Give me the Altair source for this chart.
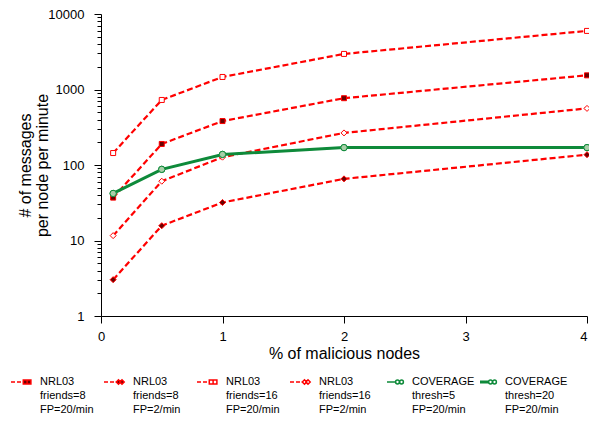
import altair as alt
import pandas as pd

# ---------------- data ----------------
x_pct = [0.1, 0.5, 1, 2, 4]
nrl_f8_fp20 = [37, 190, 382, 767, 1540]
nrl_f8_fp2 = [3.03, 15.7, 31.9, 65.5, 137]
nrl_f16_fp20 = [144, 727, 1466, 2960, 5970]
nrl_f16_fp2 = [11.6, 61, 127, 266, 562]
cov_t5 = [42, 87.6, 138, 170, 170]
cov_t20 = [42, 87.6, 138, 170, 170]

series_names = [
    "NRL03\nfriends=8\nFP=20/min",
    "NRL03\nfriends=8\nFP=2/min",
    "NRL03\nfriends=16\nFP=20/min",
    "NRL03\nfriends=16\nFP=2/min",
    "COVERAGE\nthresh=5\nFP=20/min",
    "COVERAGE\nthresh=20\nFP=20/min",
]
series_values = [nrl_f8_fp20, nrl_f8_fp2, nrl_f16_fp20, nrl_f16_fp2, cov_t5, cov_t20]

x_ticks = [0, 1, 2, 3, 4]
y_major = [1, 10, 100, 1000, 10000]
y_ticks = [m * d for d in [1, 10, 100, 1000] for m in range(1, 10)] + [10000]

rows = []
for name, vals in zip(series_names, series_values):
    for xv, yv in zip(x_pct, vals):
        rows.append({"x": xv, "y": yv, "series": name})
df = pd.DataFrame(rows)

# ---------------- styles ----------------
RED = "#ff0000"
DARKRED = "#6a0000"
GREEN = "#0e8a3a"
LIGHTGREEN = "#a9cfa9"


def sq(cx, h):
    return f"M{cx-h},{-h}L{cx+h},{-h}L{cx+h},{h}L{cx-h},{h}Z"


def dm(cx, h):
    return f"M{cx-h},0L{cx},{-h}L{cx+h},0L{cx},{h}Z"


def ci(cx, r):
    return f"M{cx-r},0A{r},{r} 0 1,0 {cx+r},0A{r},{r} 0 1,0 {cx-r},0Z"


dash = "M-1,0L-0.6,0M-0.4,0L0,0M0.15,0L0.3,0"
thin = "M-0.6,0L0.3,0"
thick = "M-0.6,-0.08L0.3,-0.08M-0.6,0L0.3,0M-0.6,0.08L0.3,0.08"

styles = {
    series_names[0]: dict(color=RED, dash=[6, 3], width=2.2, shape="square", fill=DARKRED, size=25,
                          path=dash + sq(0.42, 0.19) + sq(0.8, 0.19), lfill=DARKRED),
    series_names[1]: dict(color=RED, dash=[6, 3], width=2.2, shape="diamond", fill=DARKRED, size=36,
                          path=dash + dm(0.45, 0.22) + dm(0.8, 0.22), lfill=DARKRED),
    series_names[2]: dict(color=RED, dash=[6, 3], width=2.2, shape="square", fill="white", size=25,
                          path=dash + sq(0.42, 0.19) + sq(0.8, 0.19), lfill="white"),
    series_names[3]: dict(color=RED, dash=[6, 3], width=2.2, shape="diamond", fill="white", size=36,
                          path=dash + dm(0.45, 0.22) + dm(0.8, 0.22), lfill="white"),
    series_names[4]: dict(color=GREEN, dash=None, width=1.5, shape="circle", fill=LIGHTGREEN, size=40,
                          path=thin + ci(0.45, 0.19) + ci(0.85, 0.19), lfill="white"),
    series_names[5]: dict(color=GREEN, dash=None, width=3, shape="circle", fill=LIGHTGREEN, size=40,
                          path=thick + ci(0.45, 0.19) + ci(0.85, 0.19), lfill="white"),
}

major_test = "indexof([1,10,100,1000,10000], datum.value) >= 0"

X = alt.X(
    "x:Q",
    scale=alt.Scale(domain=[0, 4], nice=False, zero=False),
    axis=alt.Axis(
        title="% of malicious nodes",
        values=x_ticks,
        grid=False,
        tickSize=7,
        labelPadding=7,
        labelFlush=False,
        labelOverlap=False,
        labelAlign={"condition": {"test": "datum.value === 4", "value": "right"}, "value": "center"},
        titleY=29,
        titleFontSize=16,
        labelFontSize=13,
    ),
)
Y = alt.Y(
    "y:Q",
    scale=alt.Scale(type="log", domain=[1, 10000], nice=False),
    axis=alt.Axis(
        title=["# of messages", "per node per minute"],
        values=y_ticks,
        format="d",
        labelExpr=f"{major_test} ? datum.label : ''",
        tickSize={"condition": {"test": major_test, "value": 7}, "value": 4},
        grid=False,
        labelPadding=10,
        labelFlush=False,
        labelOverlap=False,
        titleX=-68,
        titleLineHeight=17,
        titleFontSize=16,
        labelFontSize=13,
    ),
)

base = alt.Chart(df)
line_layers = []
point_layers = []
for name in series_names:
    st = styles[name]
    sub = base.transform_filter(alt.datum.series == name)
    mk = dict(color=st["color"], strokeWidth=st["width"])
    if st["dash"]:
        mk["strokeDash"] = st["dash"]
    line_layers.append(sub.mark_line(**mk).encode(x=X, y=Y))
    point_layers.append(
        sub.mark_point(
            shape=st["shape"], filled=True, fill=st["fill"], stroke=st["color"],
            strokeWidth=1, size=st["size"], opacity=1,
        ).encode(x=X, y=Y)
    )

# red lines first, then green, then markers
layers = line_layers[:4] + point_layers[:4] + line_layers[4:] + point_layers[4:]

legend = alt.Legend(
    title=None,
    orient="none",
    legendX=-91,
    legendY=357,
    direction="horizontal",
    columns=6,
    gridAlign="all",
    columnPadding=-2,
    labelExpr="split(datum.label, '\\n')",
    labelFontSize=11,
    labelOffset=8,
    symbolSize=400,
    symbolStrokeWidth=1.5,
    padding=0,
)
legend_layer = (
    base.transform_filter("false")
    .mark_point(filled=True, opacity=1)
    .encode(
        x=X,
        y=Y,
        shape=alt.Shape("series:N", scale=alt.Scale(domain=series_names,
                        range=[styles[s]["path"] for s in series_names]), legend=legend),
        fill=alt.Fill("series:N", scale=alt.Scale(domain=series_names,
                      range=[styles[s]["lfill"] for s in series_names]), legend=legend),
        stroke=alt.Stroke("series:N", scale=alt.Scale(domain=series_names,
                          range=[styles[s]["color"] for s in series_names]), legend=legend),
    )
)

chart = (
    alt.layer(*layers, legend_layer)
    .properties(
        width=486,
        height=302,
        autosize=alt.AutoSizeParams(type="none"),
        padding={"left": 93, "top": 6, "right": 2, "bottom": 99},
    )
    .configure(font="Liberation Sans", style={"guide-label": {"lineHeight": 14}})
    .configure_view(stroke=None)
    .configure_axis(
        domainColor="black",
        tickColor="black",
        labelColor="black",
        titleColor="black",
        titleFontWeight="normal",
        labelFont="Liberation Sans",
        titleFont="Liberation Sans",
    )
    .configure_legend(labelColor="black", labelFont="Liberation Sans")
)

chart.save("out.html", embed_options={"renderer": "svg", "actions": False})
